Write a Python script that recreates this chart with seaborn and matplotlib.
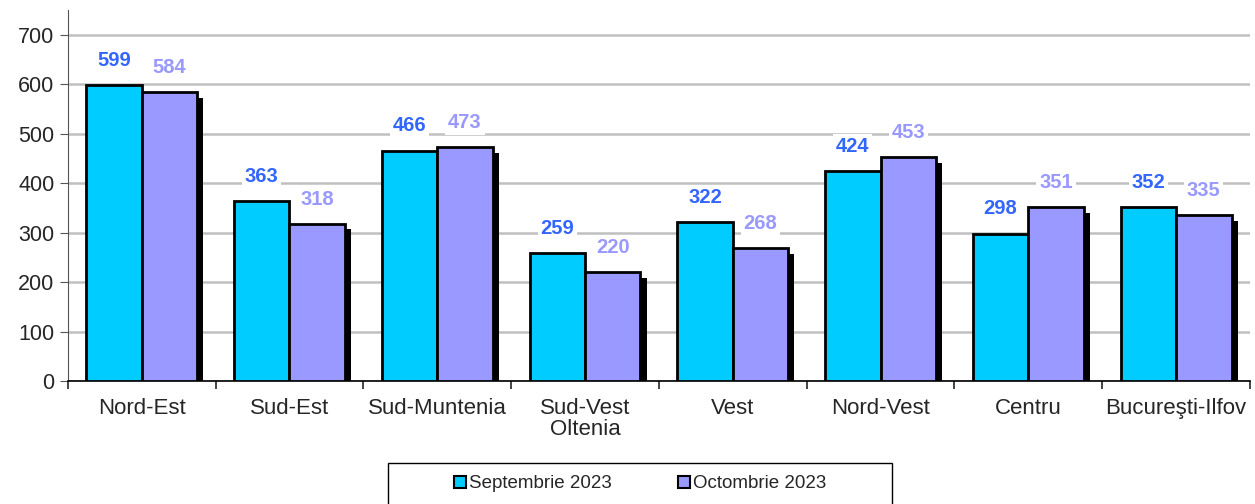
import pandas as pd
import matplotlib.pyplot as plt
import matplotlib.patheffects as pe
import seaborn as sns

regions = ['Nord-Est', 'Sud-Est', 'Sud-Muntenia', 'Sud-Vest\nOltenia', 'Vest',
           'Nord-Vest', 'Centru', 'Bucureşti-Ilfov']
sept = [599, 363, 466, 259, 322, 424, 298, 352]
oct_ = [584, 318, 473, 220, 268, 453, 351, 335]
series = ['Septembrie 2023', 'Octombrie 2023']
bar_colors = ['#00CCFF', '#9999FF']
label_colors = ['#3366FF', '#9999FF']


def main():
    df = pd.DataFrame({'regiune': regions * 2,
                       'luna': [series[0]] * 8 + [series[1]] * 8,
                       'valoare': sept + oct_})

    sns.set_style('white')
    plt.rcParams['font.family'] = ['Liberation Sans', 'DejaVu Sans']

    fig = plt.figure(figsize=(12.55, 5.04), dpi=100)
    ax = fig.add_axes([0.054, 0.244, 0.942, 0.736])

    sns.barplot(data=df, x='regiune', y='valoare', hue='luna', hue_order=series,
                palette=bar_colors, width=0.75, edgecolor='black', linewidth=2,
                saturation=1, errorbar=None, ax=ax, legend=False, zorder=3)

    # shadow behind the second bar of each group
    for p in ax.containers[1]:
        p.set_path_effects([pe.SimplePatchShadow(offset=(4.5, -4), shadow_rgbFace='black', alpha=1),
                            pe.Normal()])

    for i, cont in enumerate(ax.containers):
        for bar, v in zip(cont, [sept, oct_][i]):
            x = bar.get_x() + bar.get_width() / 2
            ax.text(x, v + 50, str(v), ha='center', va='center', fontsize=14.5,
                    fontweight='bold', color=label_colors[i], zorder=4,
                    bbox=dict(facecolor='white', edgecolor='none', pad=2))

    ax.set_ylim(0, 750)
    ax.set_yticks(range(0, 701, 100))
    ax.set_xlim(-0.5, 7.5)
    ax.yaxis.grid(True, color='#C0C0C0', linewidth=1.8, zorder=0)
    ax.set_axisbelow(True)
    for s in ['top', 'right']:
        ax.spines[s].set_visible(False)
    ax.spines['left'].set_color('#555555')
    ax.spines['bottom'].set_color('black')
    ax.spines['bottom'].set_linewidth(1.2)

    ax.set_xticks([i for i in range(8)])
    ax.set_xticklabels(regions, fontsize=16, linespacing=1.0)
    ax.tick_params(axis='x', length=0, pad=12)
    ax.set_xticks([i + 0.5 for i in range(-1, 8)], minor=True)
    ax.tick_params(axis='x', which='minor', length=6, width=1.2, direction='out', bottom=True)
    ax.tick_params(axis='y', labelsize=15.5, length=6, left=True, direction='out', color='#555555')
    ax.set_xlabel('')
    ax.set_ylabel('')

    handles = [plt.Rectangle((0, 0), 1, 1, facecolor=c, edgecolor='black', linewidth=1.5)
               for c in bar_colors]
    fig.legend(handles, series, loc='center', bbox_to_anchor=(640 / 1255, 1 - 484 / 504),
               ncol=2, frameon=False, fontsize=13.5,
               handlelength=0.65, handleheight=0.65, handletextpad=0.15,
               columnspacing=3.5, borderpad=0, borderaxespad=0)
    frame = plt.Rectangle((388 / 1255, -0.05), 504 / 1255, (504 - 463) / 504 + 0.05,
                          transform=fig.transFigure, facecolor='none', edgecolor='black',
                          linewidth=1)
    fig.add_artist(frame)

    fig.savefig('out.png', dpi=100)


if __name__ == '__main__':
    main()
